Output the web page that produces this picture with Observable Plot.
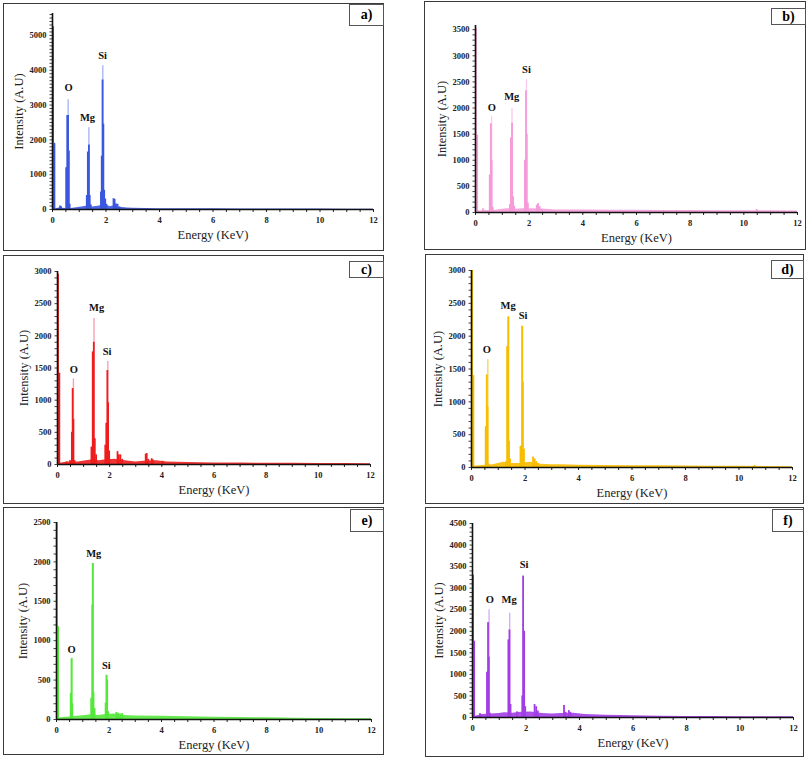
<!DOCTYPE html>
<html>
<head>
<meta charset="utf-8">
<script src="https://cdn.jsdelivr.net/npm/d3@7"></script>
<script src="https://cdn.jsdelivr.net/npm/@observablehq/plot@0.6"></script>
<style>
  html, body { margin: 0; padding: 0; background: #fff; }
  #wrap { position: relative; width: 808px; height: 760px; overflow: hidden; background: #fff; }
  .panel { position: absolute; box-sizing: border-box; border: 1.5px solid #3a3a3a; }
  .chart { position: absolute; }
  .chart svg text { font-family: "Liberation Serif", "Times New Roman", serif; }
  .tag { position: absolute; box-sizing: border-box; border: 1px solid #555; background: #fff;
         font-family: "Liberation Serif", serif; font-weight: bold; font-size: 14px;
         display: flex; align-items: center; justify-content: center; }
</style>
</head>
<body>
<div id="wrap"></div>
<script>
// ---------- data (energy keV, counts) ----------
const energyTicks = [0, 2, 4, 6, 8, 10, 12];
const elementNames = ["O", "Mg", "Si"];

// a) blue
const peaksA = [[0.04,5250],[0.09,1900],[0.3,100],[0.34,80],[0.53,1200],[0.57,2700],[0.6,2700],[0.63,1680],[0.66,150],
  [1.3,400],[1.34,1650],[1.38,1850],[1.41,400],[1.45,130],[1.83,500],[1.86,1530],[1.89,3720],[1.92,2450],[1.95,550],
  [1.99,300],[2.03,150],[2.3,310],[2.34,290],[2.39,160],[2.45,150],[2.52,70]];
const tipsA = [[0.585,3150],[1.36,2350],[1.88,4130]];
const bgA = [[0.12,20],[0.25,40],[0.5,30],[0.7,30],[0.9,50],[1.1,70],[1.25,90],[1.5,70],[1.7,90],[1.8,110],[2.05,120],
  [2.15,80],[2.25,100],[2.6,60],[2.8,40],[3,35],[4,25],[5,20],[6,18],[7,16],[8,14],[9,12],[10,12],[11,10],[12,8]];
const labelPosA = [[0.6,3500],[1.31,2650],[1.87,4425]];
const yTicksA = [0,1000,2000,3000,4000,5000];

// b) pink
const peaksB = [[0.03,3520],[0.08,1480],[0.3,70],[0.55,720],[0.59,1700],[0.62,1000],[0.66,100],[1.3,150],[1.34,1430],
  [1.38,1710],[1.42,300],[1.46,120],[1.86,1000],[1.9,2330],[1.93,1500],[1.97,180],[2.3,140],[2.35,170],[2.41,110],
  [2.5,60],[10.5,55]];
const tipsB = [[0.6,1840],[1.36,1990],[1.9,2540]];
const bgB = [[0.1,30],[0.4,40],[0.7,40],[1.0,60],[1.2,70],[1.5,60],[1.8,70],[2.1,70],[2.6,60],[3,50],[4,50],[5,45],
  [6,45],[7,40],[8,38],[9,35],[10,35],[11,32],[12,30]];
const labelPosB = [[0.61,2015],[1.35,2226],[1.9,2738]];
const yTicksB = [0,500,1000,1500,2000,2500,3000,3500];

// c) red
const peaksC = [[0.04,2960],[0.09,1420],[0.36,40],[0.5,60],[0.57,500],[0.6,1180],[0.63,700],[0.67,60],[1.32,270],
  [1.37,1750],[1.41,1900],[1.45,400],[1.5,150],[1.85,300],[1.89,640],[1.93,1460],[1.96,960],[2.0,210],[2.32,200],
  [2.37,150],[2.43,150],[2.5,80],[3.4,160],[3.44,170],[3.5,80],[3.63,90],[3.68,70],[4.05,50]];
const tipsC = [[0.61,1330],[1.4,2270],[1.93,1600]];
const bgC = [[0.1,20],[0.4,40],[0.8,40],[1.1,60],[1.3,70],[1.6,60],[1.8,70],[2.2,80],[2.6,60],[3,40],[3.3,50],
  [3.8,60],[4.2,40],[5,30],[6,25],[7,22],[8,20],[9,18],[10,16],[11,14],[12,10]];
const labelPosC = [[0.63,1477],[1.5,2436],[1.9,1752]];
const yTicksC = [0,500,1000,1500,2000,2500,3000];

// d) yellow
const peaksD = [[0.04,3000],[0.09,1400],[0.55,620],[0.59,1410],[0.62,920],[0.66,50],[1.31,90],[1.35,1840],[1.39,2290],
  [1.42,400],[1.46,130],[1.85,320],[1.89,330],[1.91,2150],[1.94,1300],[1.98,280],[2.32,160],[2.38,130],[2.44,90],
  [2.5,60],[10.6,30]];
const tipsD = [[0.61,1640],[1.39,2300],[1.91,2150]];
const bgD = [[0.1,20],[0.4,30],[0.8,40],[1.0,60],[1.2,80],[1.5,60],[1.8,60],[2.2,80],[2.6,50],[3,40],[3.4,40],[4,35],
  [5,30],[6,28],[7,25],[8,22],[9,20],[10,18],[11,15],[12,10]];
const labelPosD = [[0.57,1802],[1.37,2467],[1.93,2310]];
const yTicksD = [0,500,1000,1500,2000,2500,3000];

// e) green
const peaksE = [[0.04,2500],[0.08,1180],[0.56,330],[0.59,770],[0.62,200],[1.34,270],[1.38,1450],[1.4,1980],[1.43,340],
  [1.47,140],[1.89,210],[1.92,560],[1.95,500],[1.99,100],[2.3,90],[2.36,80],[2.44,70],[2.52,75]];
const tipsE = [[0.59,780],[1.4,1980],[1.92,560]];
const bgE = [[0.1,20],[0.4,30],[0.8,40],[1.1,50],[1.3,60],[1.6,50],[1.8,60],[2.2,70],[2.6,50],[3,45],[4,40],[5,35],
  [6,28],[7,25],[8,22],[8.6,20],[9,15],[10,12],[11,10],[12,10]];
const labelPosE = [[0.57,892],[1.42,2103],[1.9,685]];
const yTicksE = [0,500,1000,1500,2000,2500];

// f) purple
const peaksF = [[0.04,3300],[0.08,1770],[0.3,90],[0.35,60],[0.56,1050],[0.6,2200],[0.63,1400],[0.67,100],[1.36,1800],
  [1.4,2030],[1.44,300],[1.68,130],[1.88,500],[1.91,3280],[1.95,2000],[1.99,250],[2.34,300],[2.4,250],[2.46,150],
  [3.44,280],[3.5,120],[3.62,160],[3.68,120]];
const tipsF = [[0.62,2500],[1.39,2420]];
const bgF = [[0.1,30],[0.4,70],[0.7,80],[1.0,90],[1.2,110],[1.5,100],[1.8,120],[2.2,130],[2.6,90],[3,80],[3.3,90],
  [3.8,100],[4.2,70],[5,50],[6,40],[7,30],[8,25],[9,22],[10,20],[11,18],[12,15]];
const labelPosF = [[0.65,2744],[1.37,2730],[1.93,3549]];
const yTicksF = [0,500,1000,1500,2000,2500,3000,3500,4000,4500];

// ---------- layout / style ----------
const panels = [
  {tag:"a)", box:[3,3,384,251], plot:[52,373,209,13], ymax:5630, color:"#3b57e0", tip:"#a9b8f2",
   peaks:peaksA, tips:tipsA, bg:bgA, lab:labelPosA, yt:yTicksA, tagBox:[349,4,384,26]},
  {tag:"b)", box:[424,1,806,250], plot:[475,797,212,25], ymax:3580, color:"#f59bd9", tip:"#fccdee",
   peaks:peaksB, tips:tipsB, bg:bgB, lab:labelPosB, yt:yTicksB, tagBox:[771,8,806,25]},
  {tag:"c)", box:[3,255,384,504], plot:[57,370,464,271], ymax:3000, color:"#ee1d1d", tip:"#f6a0b2",
   peaks:peaksC, tips:tipsC, bg:bgC, lab:labelPosC, yt:yTicksC, tagBox:[349,261,384,278]},
  {tag:"d)", box:[425,254,804,504], plot:[471,792,467,270], ymax:3000, color:"#f7bd00", tip:"#f9d65a",
   peaks:peaksD, tips:tipsD, bg:bgD, lab:labelPosD, yt:yTicksD, tagBox:[771,260,804,279]},
  {tag:"e)", box:[3,507,384,755], plot:[56,371,719,522], ymax:2500, color:"#55e83c", tip:"#8ff07c",
   peaks:peaksE, tips:tipsE, bg:bgE, lab:labelPosE, yt:yTicksE, tagBox:[350,509,384,532]},
  {tag:"f)", box:[425,507,804,757], plot:[472,793,717,523], ymax:4500, color:"#a23ee6", tip:"#d9aef6",
   peaks:peaksF, tips:tipsF, bg:bgF, lab:labelPosF, yt:yTicksF, tagBox:[772,509,804,532]}
];

const wrap = document.getElementById("wrap");
const hw = 0.034;
const serif = "'Liberation Serif', 'Times New Roman', serif";

for (const p of panels) {
  const [L, T, R, B] = p.box;
  const [x0, x12, y0, yTop] = p.plot;

  const border = document.createElement("div");
  border.className = "panel";
  Object.assign(border.style, {left: L + "px", top: T + "px", width: (R - L) + "px", height: (B - T) + "px"});
  wrap.appendChild(border);

  const labels = p.lab.map((d, i) => ({name: elementNames[i], x: d[0], y: d[1]}));

  const chart = Plot.plot({
    width: R - L,
    height: B - T,
    marginLeft: x0 - L,
    marginRight: R - x12,
    marginTop: yTop - T,
    marginBottom: B - y0,
    x: {domain: [0, 12], label: null},
    y: {domain: [0, p.ymax], label: null},
    style: {background: "transparent", fontFamily: serif, overflow: "visible"},
    marks: [
      Plot.areaY(p.bg, {x: d => d[0], y: d => d[1], fill: p.color, fillOpacity: 0.9}),
      Plot.ruleX(p.tips, {x: d => d[0], y1: 0, y2: d => d[1], stroke: p.tip, strokeWidth: 1.4}),
      Plot.rect(p.peaks, {x1: d => d[0] - hw, x2: d => d[0] + hw, y1: 0, y2: d => d[1], fill: p.color}),
      Plot.axisX({ticks: d3.range(0, 12.01, 0.5), tickSize: 3, fill: "none", stroke: "#222"}),
      Plot.axisX({ticks: energyTicks, tickSize: 0, tickPadding: 7, fontSize: 8.5, fontWeight: "bold",
                  tickFormat: d3.format("d"), fill: "#222", label: null}),
      Plot.axisY({ticks: d3.range(0, p.ymax + 1, 100), tickSize: 2.5, fill: "none", stroke: "#444"}),
      Plot.axisY({ticks: p.yt, tickSize: 0, tickPadding: 6, fontSize: 8.5, fontWeight: "bold",
                  tickFormat: d3.format("d"), fill: "#222", label: null}),
      Plot.ruleY([0], {stroke: "#111", strokeWidth: 1.3}),
      Plot.ruleX([0], {stroke: "#111", strokeWidth: 1.6}),
      Plot.text(labels, {x: "x", y: "y", text: "name", fontSize: 10.5, fontWeight: "bold", fill: "#111"}),
      Plot.text(["Intensity (A.U)"], {frameAnchor: "left", rotate: -90, dx: -34, textAnchor: "middle",
                 lineAnchor: "middle", fontSize: 12.5, fontWeight: "normal", fill: "#222"}),
      Plot.text(["Energy (KeV)"], {frameAnchor: "bottom", dy: 25, textAnchor: "middle",
                 lineAnchor: "middle", fontSize: 12.5, fontWeight: "normal", fill: "#222"})
    ]
  });
  const holder = document.createElement("div");
  holder.className = "chart";
  Object.assign(holder.style, {left: L + "px", top: T + "px"});
  holder.appendChild(chart);
  wrap.appendChild(holder);

  const [tl, tt, tr, tb] = p.tagBox;
  const tag = document.createElement("div");
  tag.className = "tag";
  tag.textContent = p.tag;
  Object.assign(tag.style, {left: tl + "px", top: tt + "px", width: (tr - tl) + "px", height: (tb - tt) + "px"});
  wrap.appendChild(tag);
}
</script>
</body>
</html>
